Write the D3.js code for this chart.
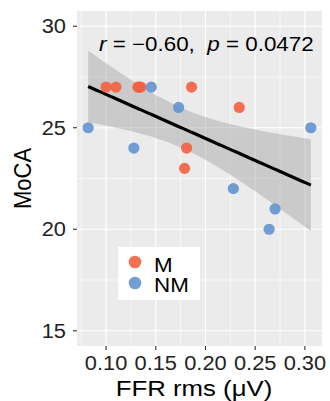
<!DOCTYPE html>
<html>
<head>
<meta charset="utf-8">
<script src="https://d3js.org/d3.v7.min.js"></script>
<style>
  body { margin: 0; background: #fff; }
  svg text { font-family: "Liberation Sans", Arial, sans-serif; white-space: pre; }
</style>
</head>
<body>
<script>
  // values
  var groups = ["M", "NM"];
  var groupColors = ["#F4603F", "#6492D0"];
  var ffrM = [0.100, 0.110, 0.132, 0.1335, 0.135, 0.186, 0.234, 0.181, 0.179];
  var mocaM = [27, 27, 27, 27, 27, 27, 26, 24, 23];
  var ffrNM = [0.082, 0.1455, 0.173, 0.306, 0.128, 0.228, 0.270, 0.264];
  var mocaNM = [25, 27, 26, 25, 24, 22, 21, 20];
  var xTicks = [0.10, 0.15, 0.20, 0.25, 0.30];
  var yTicks = [15, 20, 25, 30];
  var xTitle = "FFR rms (\u03bcV)";
  var yTitle = "MoCA";

  var W = 330, H = 401;
  var panel = {left: 77, right: 322, top: 11, bottom: 346};
  var sx = 1.12; // text in the picture is a bit wide

  var points = [];
  ffrM.forEach(function (v, i) { points.push({x: v, y: mocaM[i], g: 0}); });
  ffrNM.forEach(function (v, i) { points.push({x: v, y: mocaNM[i], g: 1}); });

  // ggplot-like 5% expansion
  var xr = d3.extent(points, function (d) { return d.x; });
  var xpad = (xr[1] - xr[0]) * 0.05;
  var x = d3.scaleLinear().domain([xr[0] - xpad, xr[1] + xpad]).range([panel.left, panel.right]);
  var ypad = (30 - 15) * 0.05;
  var y = d3.scaleLinear().domain([15 - ypad, 30 + ypad]).range([panel.bottom, panel.top]);

  // linear fit + 95% CI
  var n = points.length;
  var mx = d3.mean(points, function (d) { return d.x; });
  var my = d3.mean(points, function (d) { return d.y; });
  var sxx = d3.sum(points, function (d) { return (d.x - mx) * (d.x - mx); });
  var sxy = d3.sum(points, function (d) { return (d.x - mx) * (d.y - my); });
  var slope = sxy / sxx;
  var icpt = my - slope * mx;
  var sse = d3.sum(points, function (d) { var e = d.y - (icpt + slope * d.x); return e * e; });
  var s = Math.sqrt(sse / (n - 2));
  var tCrit = 2.131; // t(0.975, df = 15)
  var fitX = d3.range(0, 81).map(function (i) { return xr[0] + (xr[1] - xr[0]) * i / 80; });
  var fit = fitX.map(function (v) {
    var yh = icpt + slope * v;
    var se = s * Math.sqrt(1 / n + (v - mx) * (v - mx) / sxx);
    return {x: v, y: yh, lo: yh - tCrit * se, hi: yh + tCrit * se};
  });

  var svg = d3.select("body").append("svg").attr("width", W).attr("height", H);

  svg.append("rect")
     .attr("x", panel.left).attr("y", panel.top)
     .attr("width", panel.right - panel.left).attr("height", panel.bottom - panel.top)
     .attr("fill", "#EBEBEB");

  var xMinor = d3.range(0.075, 0.32, 0.05);
  var yMinor = [17.5, 22.5, 27.5];
  var grid = svg.append("g").attr("stroke", "#fff");
  grid.selectAll(".xm").data(xMinor).enter().append("line")
      .attr("x1", x).attr("x2", x).attr("y1", panel.top).attr("y2", panel.bottom)
      .attr("stroke-width", 0.6);
  grid.selectAll(".ym").data(yMinor).enter().append("line")
      .attr("y1", y).attr("y2", y).attr("x1", panel.left).attr("x2", panel.right)
      .attr("stroke-width", 0.6);
  grid.selectAll(".xM").data(xTicks).enter().append("line")
      .attr("x1", x).attr("x2", x).attr("y1", panel.top).attr("y2", panel.bottom)
      .attr("stroke-width", 1.2);
  grid.selectAll(".yM").data(yTicks).enter().append("line")
      .attr("y1", y).attr("y2", y).attr("x1", panel.left).attr("x2", panel.right)
      .attr("stroke-width", 1.2);

  // confidence band and fit line
  svg.append("path").datum(fit)
     .attr("fill", "#999999").attr("fill-opacity", 0.4)
     .attr("d", d3.area().x(function (d) { return x(d.x); })
                         .y0(function (d) { return y(d.lo); })
                         .y1(function (d) { return y(d.hi); }));
  svg.append("path").datum(fit)
     .attr("fill", "none").attr("stroke", "#000").attr("stroke-width", 3.2)
     .attr("d", d3.line().x(function (d) { return x(d.x); }).y(function (d) { return y(d.y); }));

  svg.selectAll(".pt").data(points).enter().append("circle")
     .attr("cx", function (d) { return x(d.x); })
     .attr("cy", function (d) { return y(d.y); })
     .attr("r", 5.6)
     .attr("fill", function (d) { return groupColors[d.g]; })
     .attr("fill-opacity", 0.9);

  function txt(px, py, str, size, anchor, rot) {
    return svg.append("text")
      .attr("transform", "translate(" + px + "," + py + ")" + (rot ? " rotate(-90) scale(1," + sx + ")" : " scale(" + sx + ",1)"))
      .attr("text-anchor", anchor)
      .attr("font-size", size)
      .text(str);
  }

  // axes ticks
  var ax = svg.append("g").attr("stroke", "#333").attr("stroke-width", 1.1);
  ax.selectAll(".tx").data(xTicks).enter().append("line")
    .attr("x1", x).attr("x2", x).attr("y1", panel.bottom).attr("y2", panel.bottom + 4);
  ax.selectAll(".ty").data(yTicks).enter().append("line")
    .attr("y1", y).attr("y2", y).attr("x1", panel.left - 4).attr("x2", panel.left);

  xTicks.forEach(function (t) {
    txt(x(t), 370, d3.format(".2f")(t), 19.5, "middle").attr("fill", "#222");
  });
  yTicks.forEach(function (t) {
    txt(panel.left - 11, y(t) + 7, String(t), 19.5, "end").attr("fill", "#222");
  });

  txt(194, 396, xTitle, 23, "middle");
  txt(31, (panel.top + panel.bottom) / 2, yTitle, 22, "middle", true);

  // correlation label
  var ann = svg.append("text")
     .attr("transform", "translate(99,51) scale(" + sx + ",1)")
     .attr("font-size", 20);
  ann.append("tspan").attr("font-style", "italic").text("r");
  ann.append("tspan").text(" = \u22120.60,  ");
  ann.append("tspan").attr("font-style", "italic").text("p");
  ann.append("tspan").text(" = 0.0472");

  // legend
  var lg = svg.append("g").attr("transform", "translate(118,247)");
  lg.append("rect").attr("width", 82).attr("height", 53).attr("fill", "#fff");
  groups.forEach(function (g, i) {
    lg.append("circle").attr("cx", 17).attr("cy", 15 + i * 21).attr("r", 6.3)
      .attr("fill", groupColors[i]).attr("fill-opacity", 0.9);
    lg.append("text")
      .attr("transform", "translate(36," + (25 + i * 20) + ") scale(" + sx + ",1)")
      .attr("font-size", 20).text(g);
  });
</script>
</body>
</html>
